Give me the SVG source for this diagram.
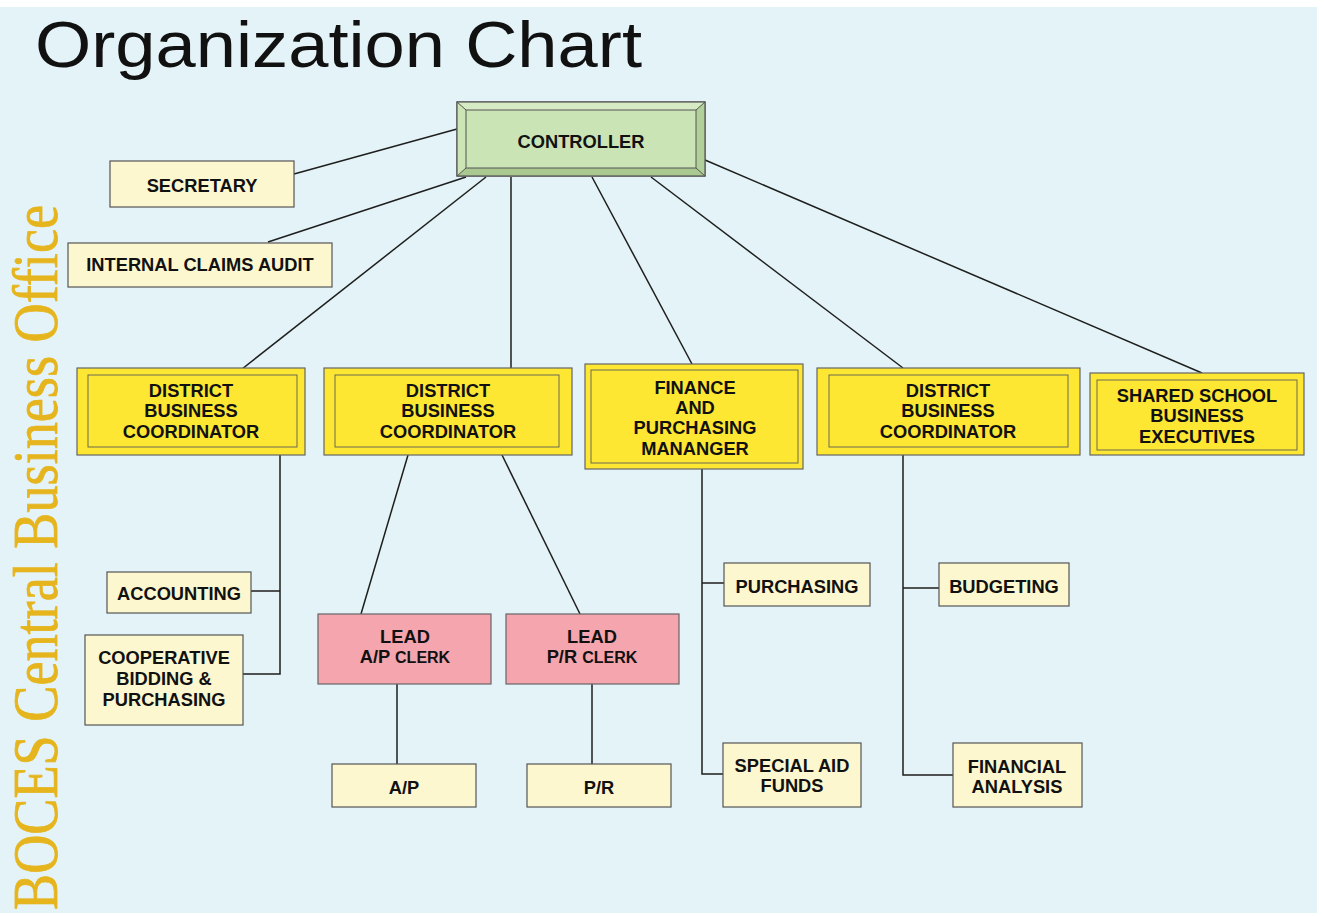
<svg xmlns="http://www.w3.org/2000/svg" width="1324" height="916" viewBox="0 0 1324 916">
  <style>
    .lbl { font-family: "Liberation Sans", Arial, sans-serif; font-weight: bold; font-size: 18.3px; fill: #111; text-anchor: middle; }
    .sm { font-size: 16px; }
    .ln { stroke: #1e1e1e; stroke-width: 1.5; fill: none; }
    .light { fill: #fcf7cf; stroke: #555; stroke-width: 1.2; }
    .yel { fill: #fde733; stroke: #666; stroke-width: 1.2; }
    .yin { fill: none; stroke: #6a6a50; stroke-width: 1; }
    .pink { fill: #f4a5ae; stroke: #666; stroke-width: 1.2; }
  </style>

  <!-- page -->
  <rect x="0" y="0" width="1324" height="916" fill="#ffffff"/>
  <rect x="0" y="7" width="1317" height="906" fill="#e4f3f7"/>

  <text x="35" y="67" font-family="Liberation Sans, Arial, sans-serif" font-size="65" fill="#111" textLength="607" lengthAdjust="spacingAndGlyphs">Organization Chart</text>

  <text transform="translate(57,910) rotate(-90)" font-family="Liberation Serif, Times New Roman, serif" font-size="63" fill="#e6b51e" stroke="#e6b51e" stroke-width="0.8" textLength="705" lengthAdjust="spacingAndGlyphs">BOCES Central Business Office</text>

  <!-- connectors -->
  <g id="connectors">
    <line class="ln" x1="457" y1="129" x2="294" y2="174"/>
    <line class="ln" x1="466" y1="177" x2="268" y2="242"/>
    <line class="ln" x1="486" y1="177" x2="242" y2="369"/>
    <line class="ln" x1="511" y1="177" x2="511" y2="368"/>
    <line class="ln" x1="592" y1="177" x2="692" y2="364"/>
    <line class="ln" x1="651" y1="177" x2="903" y2="368"/>
    <line class="ln" x1="705" y1="160" x2="1202" y2="373"/>

    <polyline class="ln" points="280,455 280,674 243,674"/>
    <line class="ln" x1="251" y1="591" x2="280" y2="591"/>

    <line class="ln" x1="408" y1="455" x2="361" y2="614"/>
    <line class="ln" x1="502" y1="455" x2="580" y2="614"/>
    <line class="ln" x1="397" y1="684" x2="397" y2="764"/>
    <line class="ln" x1="592" y1="684" x2="592" y2="764"/>

    <polyline class="ln" points="702,469 702,774 723,774"/>
    <line class="ln" x1="702" y1="583" x2="724" y2="583"/>

    <polyline class="ln" points="903,455 903,775 953,775"/>
    <line class="ln" x1="903" y1="588" x2="939" y2="588"/>
  </g>

  <!-- nodes -->
  <g id="controller">
    <rect x="457" y="102" width="248" height="74" fill="#c3dfa9" stroke="#555" stroke-width="1.2"/>
    <polygon points="457,102 705,102 696,110 466,110" fill="#d6ebc4"/>
    <polygon points="457,176 705,176 696,168 466,168" fill="#a9c990"/>
    <polygon points="457,102 466,110 466,168 457,176" fill="#cbe5b4"/>
    <polygon points="705,102 696,110 696,168 705,176" fill="#b2d19a"/>
    <rect x="466" y="110" width="230" height="58" fill="#cbe4b6" stroke="#555" stroke-width="1"/>
    <g stroke="#555" stroke-width="1">
      <line x1="457" y1="102" x2="466" y2="110"/>
      <line x1="705" y1="102" x2="696" y2="110"/>
      <line x1="457" y1="176" x2="466" y2="168"/>
      <line x1="705" y1="176" x2="696" y2="168"/>
    </g>
    <rect x="457" y="102" width="248" height="74" fill="none" stroke="#555" stroke-width="1.2"/>
    <text class="lbl" x="581" y="148">CONTROLLER</text>
  </g>

  <g id="secretary">
    <rect class="light" x="110" y="161" width="184" height="46"/>
    <text class="lbl" x="202" y="192">SECRETARY</text>
  </g>

  <g id="internal-claims-audit">
    <rect class="light" x="68" y="243" width="264" height="44"/>
    <text class="lbl" x="200" y="271">INTERNAL CLAIMS AUDIT</text>
  </g>

  <g id="dbc-1">
    <rect class="yel" x="77" y="368" width="228" height="87"/>
    <rect class="yin" x="88" y="375" width="209" height="72"/>
    <text class="lbl" x="191" y="397">DISTRICT</text>
    <text class="lbl" x="191" y="417">BUSINESS</text>
    <text class="lbl" x="191" y="438">COORDINATOR</text>
  </g>

  <g id="dbc-2">
    <rect class="yel" x="324" y="368" width="248" height="87"/>
    <rect class="yin" x="335" y="375" width="224" height="72"/>
    <text class="lbl" x="448" y="397">DISTRICT</text>
    <text class="lbl" x="448" y="417">BUSINESS</text>
    <text class="lbl" x="448" y="438">COORDINATOR</text>
  </g>

  <g id="finance-purchasing">
    <rect class="yel" x="585" y="364" width="218" height="105"/>
    <rect class="yin" x="591" y="370" width="207" height="93"/>
    <text class="lbl" x="695" y="394">FINANCE</text>
    <text class="lbl" x="695" y="414">AND</text>
    <text class="lbl" x="695" y="434">PURCHASING</text>
    <text class="lbl" x="695" y="455">MANANGER</text>
  </g>

  <g id="dbc-3">
    <rect class="yel" x="817" y="368" width="263" height="87"/>
    <rect class="yin" x="829" y="375" width="239" height="72"/>
    <text class="lbl" x="948" y="397">DISTRICT</text>
    <text class="lbl" x="948" y="417">BUSINESS</text>
    <text class="lbl" x="948" y="438">COORDINATOR</text>
  </g>

  <g id="shared-school">
    <rect class="yel" x="1090" y="373" width="214" height="82"/>
    <rect class="yin" x="1097" y="380" width="200" height="70"/>
    <text class="lbl" x="1197" y="402">SHARED SCHOOL</text>
    <text class="lbl" x="1197" y="422">BUSINESS</text>
    <text class="lbl" x="1197" y="443">EXECUTIVES</text>
  </g>

  <g id="accounting">
    <rect class="light" x="107" y="572" width="144" height="41"/>
    <text class="lbl" x="179" y="600">ACCOUNTING</text>
  </g>

  <g id="cooperative-bidding">
    <rect class="light" x="85" y="635" width="158" height="90"/>
    <text class="lbl" x="164" y="664">COOPERATIVE</text>
    <text class="lbl" x="164" y="685">BIDDING &amp;</text>
    <text class="lbl" x="164" y="706">PURCHASING</text>
  </g>

  <g id="lead-ap">
    <rect class="pink" x="318" y="614" width="173" height="70"/>
    <text class="lbl" x="405" y="643">LEAD</text>
    <text class="lbl" x="405" y="663">A/P <tspan class="sm">CLERK</tspan></text>
  </g>

  <g id="lead-pr">
    <rect class="pink" x="506" y="614" width="173" height="70"/>
    <text class="lbl" x="592" y="643">LEAD</text>
    <text class="lbl" x="592" y="663">P/R <tspan class="sm">CLERK</tspan></text>
  </g>

  <g id="ap">
    <rect class="light" x="332" y="764" width="144" height="43"/>
    <text class="lbl" x="404" y="794">A/P</text>
  </g>

  <g id="pr">
    <rect class="light" x="527" y="764" width="144" height="43"/>
    <text class="lbl" x="599" y="794">P/R</text>
  </g>

  <g id="purchasing">
    <rect class="light" x="724" y="563" width="146" height="43"/>
    <text class="lbl" x="797" y="593">PURCHASING</text>
  </g>

  <g id="special-aid">
    <rect class="light" x="723" y="743" width="138" height="64"/>
    <text class="lbl" x="792" y="772">SPECIAL AID</text>
    <text class="lbl" x="792" y="792">FUNDS</text>
  </g>

  <g id="budgeting">
    <rect class="light" x="939" y="563" width="130" height="43"/>
    <text class="lbl" x="1004" y="593">BUDGETING</text>
  </g>

  <g id="financial-analysis">
    <rect class="light" x="953" y="743" width="129" height="64"/>
    <text class="lbl" x="1017" y="773">FINANCIAL</text>
    <text class="lbl" x="1017" y="793">ANALYSIS</text>
  </g>
</svg>
